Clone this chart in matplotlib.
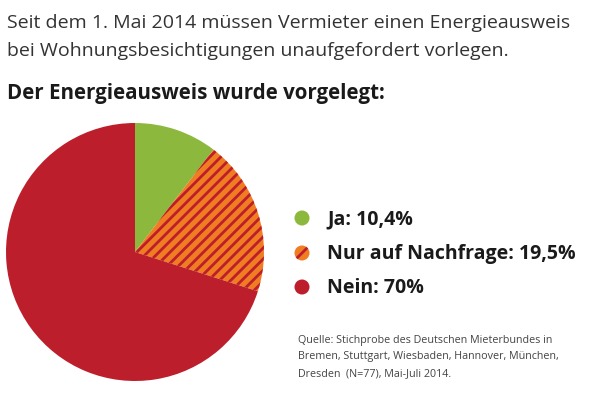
import matplotlib
matplotlib.use('Agg')
import matplotlib.pyplot as plt
from matplotlib.patches import Circle

# Data
labels = ['Ja', 'Nur auf Nachfrage', 'Nein']
values = [10.4, 19.5, 70.0]
value_texts = ['10,4%', '19,5%', '70%']

colors = ['#8DB83E', '#F07D22', '#BD1E2B']
stripe = '#BD1E2B'

plt.rcParams['font.family'] = ['Open Sans', 'DejaVu Sans']
plt.rcParams['hatch.linewidth'] = 2.0

fig = plt.figure(figsize=(6, 4), dpi=100)

# Pie
ax = fig.add_axes([6 / 600, 19 / 400, 258 / 600, 258 / 400])
wedges, _ = ax.pie(values, colors=colors, startangle=90, counterclock=False,
                   wedgeprops=dict(linewidth=0))
wedges[1].set_hatch('///')
wedges[1].set_edgecolor(stripe)
ax.set_xlim(-1.0, 1.0)
ax.set_ylim(-1.0, 1.0)
ax.set_aspect('equal')
ax.axis('off')

# Overlay in pixel coordinates for text and legend
ov = fig.add_axes([0, 0, 1, 1])
ov.set_xlim(0, 600)
ov.set_ylim(400, 0)
ov.axis('off')

ov.text(7, 23, 'Seit dem 1. Mai 2014 müssen Vermieter einen Energieausweis',
        fontsize=14, color='#333333', va='center', ha='left')
ov.text(7, 51, 'bei Wohnungsbesichtigungen unaufgefordert vorlegen.',
        fontsize=14, color='#333333', va='center', ha='left')
ov.text(7, 93, 'Der Energieausweis wurde vorgelegt:',
        fontsize=14.8, fontweight='bold', color='#1a1a1a', va='center', ha='left')

# Legend
ys = [218, 253, 287]
for i, (lab, vt) in enumerate(zip(labels, value_texts)):
    c = Circle((302, ys[i]), 7.5, facecolor=colors[i], linewidth=0)
    ov.add_patch(c)
    if i == 1:
        ln, = ov.plot([294, 310], [ys[i] + 8, ys[i] - 8], color=stripe, lw=2.0)
        ln.set_clip_path(c)
    ov.text(327, ys[i] + 1, f'{lab}: {vt}', fontsize=14, fontweight='bold',
            color='#1a1a1a', va='center', ha='left')

ov.text(298, 340, 'Quelle: Stichprobe des Deutschen Mieterbundes in',
        fontsize=7.75, color='#444444', va='center', ha='left')
ov.text(298, 357, 'Bremen, Stuttgart, Wiesbaden, Hannover, München,',
        fontsize=7.75, color='#444444', va='center', ha='left')
ov.text(298, 374, 'Dresden  (N=77), Mai-Juli 2014.',
        fontsize=7.75, color='#444444', va='center', ha='left')

plt.savefig('out.png', dpi=100)
